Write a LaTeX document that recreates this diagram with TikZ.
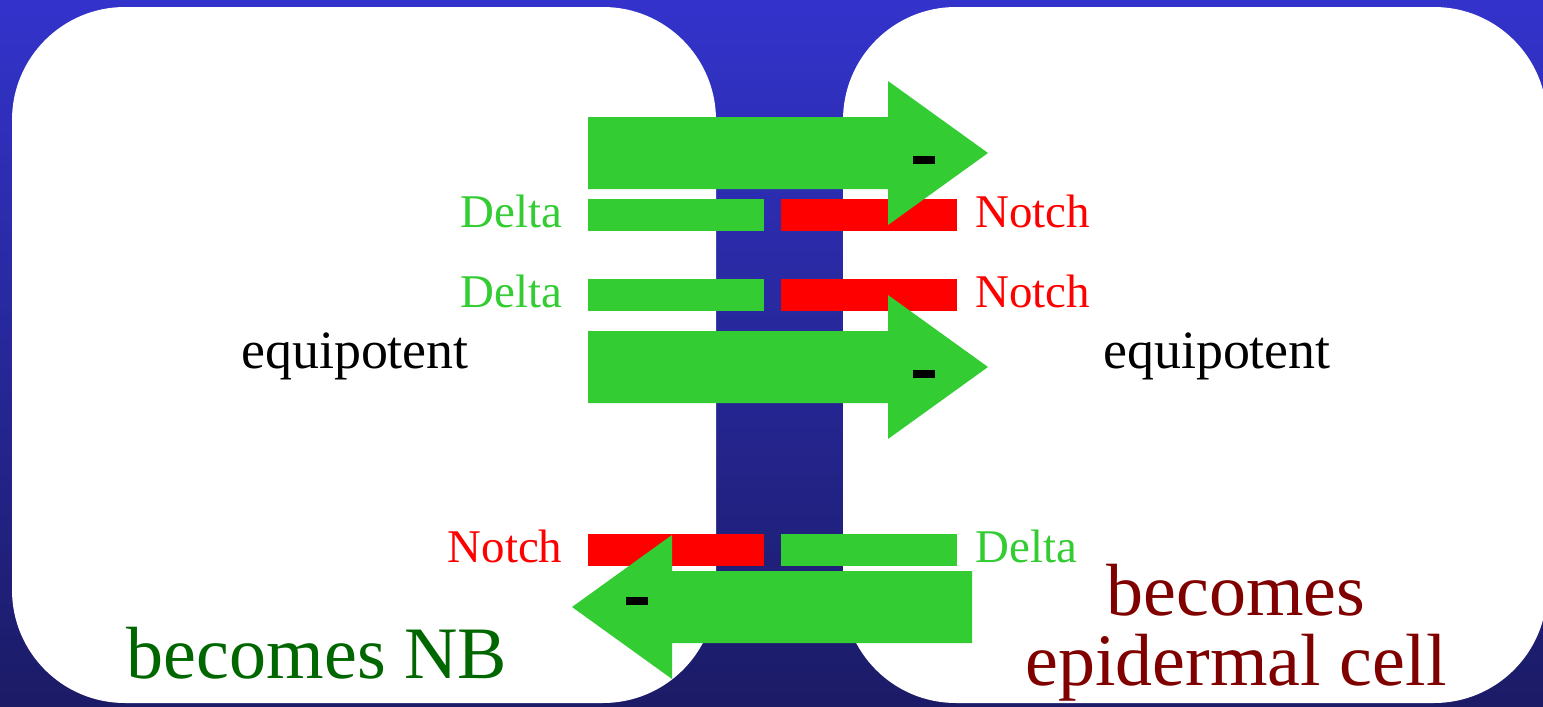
\documentclass[tikz,border=0pt]{standalone}
\usepackage{fontspec}
\setmainfont{Liberation Serif}
\usepackage{tikz}
\usetikzlibrary{positioning}

\definecolor{sgreen}{RGB}{51,204,51}
\definecolor{nbgreen}{RGB}{0,102,0}
\definecolor{epired}{RGB}{128,0,0}
\definecolor{bgtop}{RGB}{51,51,204}
\definecolor{bgbot}{RGB}{27,27,102}

\tikzset{
  cell/.style={fill=white,rounded corners=2.26cm},
  bar/.style={minimum width=3.52cm,minimum height=0.64cm,inner sep=0pt},
  deltabar/.style={bar,fill=sgreen},
  notchbar/.style={bar,fill=red},
  lbl/.style={inner sep=0pt,yshift=0.08cm,font=\fontsize{26.7}{32}\selectfont},
  lbll/.style={lbl,xshift=-0.5cm},
  lblr/.style={lbl,xshift=0.36cm},
  signal/.style={fill=sgreen},
  minus/.style={fill=black},
  fate/.style={inner sep=0pt,font=\fontsize{42.1}{39.8}\selectfont}
}

\begin{document}
\begin{tikzpicture}[x=0.02cm,y=-0.02cm,node distance=0.32cm]
		% background
		\useasboundingbox (0,0) rectangle (1543,707);
		\clip (0,0) rectangle (1543,707);
		\shade[top color=bgtop,bottom color=bgbot] (0,0) rectangle (1543,707);
		%% the two cells
		\fill[cell] (12,7) rectangle (716,703);
		\fill[cell] (843,7) rectangle (1547,703);
		%% ligand and receptor pairs
		\node[deltabar,label={[lbll,text=sgreen]left:Delta}] (d1) at (676,215) {};
		\node[notchbar,right=of d1,label={[lblr,text=red]right:Notch}] (n1) {};
		\node[deltabar,label={[lbll,text=sgreen]left:Delta}] (d2) at (676,295) {};
		\node[notchbar,right=of d2,label={[lblr,text=red]right:Notch}] (n2) {};
		\node[notchbar,label={[lbll,text=red]left:Notch}] (n3) at (676,550) {};
		\node[deltabar,right=of n3,label={[lblr,text=sgreen]right:Delta}] (d3) {};
		%% inhibition arrows
		\fill[signal] (588,117) -- (888,117) -- (888,81) -- (988,153) -- (888,225) -- (888,189) -- (588,189) -- cycle;
		\fill[signal] (588,331) -- (888,331) -- (888,295) -- (988,367) -- (888,439) -- (888,403) -- (588,403) -- cycle;
		\fill[signal] (972,571) -- (672,571) -- (672,535) -- (572,607) -- (672,679) -- (672,643) -- (972,643) -- cycle;
		\fill[minus] (913,156) rectangle (935,164);
		\fill[minus] (913,370) rectangle (935,378);
		\fill[minus] (626,597) rectangle (648,605);
		%% the texts
		\node[inner sep=0pt,anchor=base,font=\fontsize{30.7}{36}\selectfont] (eqleft) at (355,368) {equipotent};
		\node[inner sep=0pt,anchor=base,font=\fontsize{30.7}{36}\selectfont] (eqright) at (1217,368) {equipotent};
		\node[fate,anchor=base,text=nbgreen] (nb) at (317,678) {becomes NB};
		\node[fate,align=center,text=epired] (epi) at (1236,633) {becomes\\epidermal cell};
\end{tikzpicture}
\end{document}
